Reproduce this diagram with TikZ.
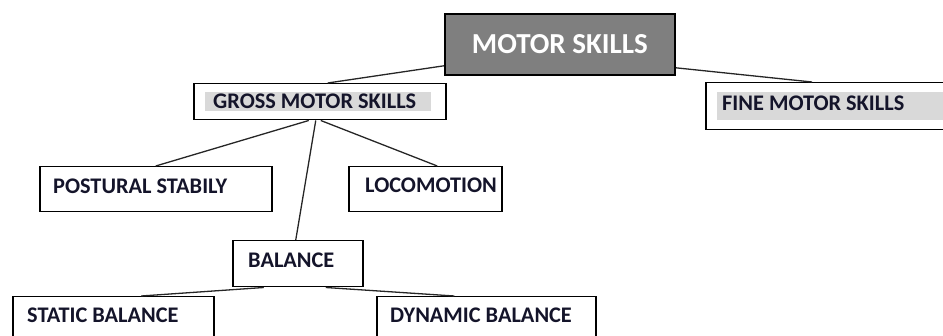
\documentclass[tikz,border=0pt]{standalone}
\usepackage{fontspec}
\setmainfont{Carlito}
\definecolor{topgray}{HTML}{7F7F7F}
\definecolor{markgray}{HTML}{D9D9D9}
\definecolor{inkdark}{HTML}{14142A}
\begin{document}
\begin{tikzpicture}[x=1pt, y=-1pt,
    skillbox/.style={draw, line width=1.5pt, anchor=north west, inner sep=0pt},
    markbox/.style={fill=markgray, anchor=north west, inner sep=0pt},
    skilltext/.style={anchor=base west, inner sep=0pt, text=inkdark,
        font=\fontsize{22.3}{25}\selectfont\bfseries},
    link/.style={line width=1.3pt, black!85}]
        \clip (0,0) rectangle (943,336);

        % Top level
        \node[skillbox, fill=topgray, line width=1.8pt, minimum width=230pt, minimum height=61pt,
            text=white, font=\fontsize{29}{34}\selectfont\bfseries] (motor) at (444,13) {MOTOR SKILLS};

        % Gross and fine
        \node[skillbox, minimum width=252pt, minimum height=36pt] (gross) at (193,83) {};
        \node[markbox, minimum width=226pt, minimum height=19pt] (grossmark) at (205,92) {};
        \node[skilltext] (grosslbl) at (213,109) {GROSS MOTOR SKILLS};

        \node[skillbox, minimum width=260pt, minimum height=47pt] (fine) at (705,82) {};
        \node[markbox, minimum width=240pt, minimum height=28pt] (finemark) at (717,92) {};
        \node[skilltext] (finelbl) at (722,111) {FINE MOTOR SKILLS};

        % Under gross motor skills
        \node[skillbox, minimum width=232pt, minimum height=45pt] (postural) at (39,166) {};
        \node[skilltext] (posturallbl) at (53,194) {POSTURAL STABILY};

        \node[skillbox, minimum width=153pt, minimum height=45pt] (loco) at (348,166) {};
        \node[skilltext] (locolbl) at (365,193) {LOCOMOTION};

        \node[skillbox, minimum width=130pt, minimum height=46pt] (balance) at (232,240) {};
        \node[skilltext] (balancelbl) at (248,268) {BALANCE};

        % Under balance
        \node[skillbox, minimum width=201pt, minimum height=60pt] (static) at (12,296) {};
        \node[skilltext] (staticlbl) at (27,323) {STATIC BALANCE};

        \node[skillbox, minimum width=219pt, minimum height=60pt] (dynamic) at (376,296) {};
        \node[skilltext] (dynamiclbl) at (390,323) {DYNAMIC BALANCE};

        % Connectors
        \draw[link] ([yshift=10pt]motor.south west) -- ([xshift=8pt]gross.north);
        \draw[link] ([yshift=8pt]motor.south east) -- ([xshift=107pt]fine.north west);
        \draw[link] ([xshift=-11pt]gross.south) -- (postural.north);
        \draw[link] ([xshift=1pt]gross.south) -- ([xshift=12pt]loco.north);
        \draw[link] ([xshift=-4pt]gross.south) -- ([xshift=-2pt]balance.north);
        \draw[link] ([xshift=-34pt]balance.south) -- ([xshift=28pt]static.north);
        \draw[link] ([xshift=28pt]balance.south) -- ([xshift=-32pt]dynamic.north);
\end{tikzpicture}
\end{document}
